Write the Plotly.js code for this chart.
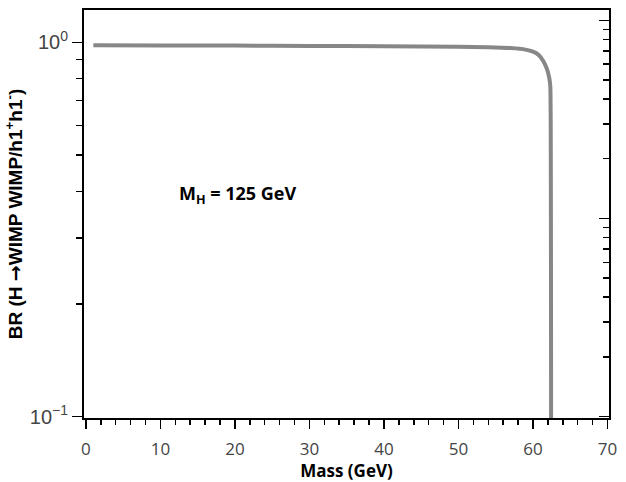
<!DOCTYPE html>
<html>
<head>
<meta charset="utf-8">
<script src="https://cdn.plot.ly/plotly-3.0.1.min.js"></script>
<style>html,body{margin:0;padding:0;background:#fff;}#chart{width:626px;height:482px;}</style>
</head>
<body>
<div id="chart"></div>
<script>
// Data
var massGeV = [1, 10, 20, 30, 40, 50, 54, 57, 59, 60, 60.8, 61.4, 61.9, 62.2, 62.33, 62.38, 62.4, 62.42, 62.43];
var branchingRatio = [0.982, 0.981, 0.980, 0.978, 0.976, 0.973, 0.970, 0.965, 0.956, 0.944, 0.924, 0.890, 0.845, 0.800, 0.760, 0.600, 0.400, 0.200, 0.090];
var xTickValues = [0, 10, 20, 30, 40, 50, 60, 70];
var yTickValues = [0.1, 1];
var yTickText = ['10<sup>\u22121</sup>', '10<sup>0</sup>'];
var annotationText = '<b>M<sub>H</sub> = 125 GeV</b>';
var yTitleText = '<b>BR (H <span style="font-family:DejaVu Sans">\u2192</span>WIMP WIMP/h1<sup>+</sup>h1<sup>-</sup>)</b>';

var trace = {
  x: massGeV,
  y: branchingRatio,
  type: 'scatter',
  mode: 'lines',
  line: {color: 'rgb(135,135,135)', width: 4, shape: 'spline', smoothing: 0.4},
  hoverinfo: 'skip',
  showlegend: false
};
// empty trace so that the right-hand log axis (ticks only) is drawn
var rightAxisHolder = {x: [], y: [], type: 'scatter', mode: 'lines', yaxis: 'y2', showlegend: false, hoverinfo: 'skip'};

var layout = {
  width: 626,
  height: 482,
  margin: {l: 84, r: 17, t: 10, b: 64},
  paper_bgcolor: '#fff',
  plot_bgcolor: '#fff',
  showlegend: false,
  font: {family: 'Open Sans', size: 17, color: '#444'},
  xaxis: {
    range: [-0.25, 70.2],
    tickvals: xTickValues,
    ticks: 'outside',
    ticklen: 9,
    tickwidth: 1.5,
    tickcolor: '#000',
    minor: {dtick: 2, ticks: 'outside', ticklen: 5, tickwidth: 1.5, tickcolor: '#000'},
    showline: true,
    linecolor: '#000',
    linewidth: 2,
    mirror: true,
    showgrid: false,
    zeroline: false,
    tickfont: {family: 'Open Sans', size: 17, color: '#444'},
    ticklabelstandoff: 6,
    title: {text: '<b>Mass (GeV)</b>', font: {family: 'Open Sans', size: 17, color: '#000'}, standoff: 5}
  },
  yaxis: {
    type: 'log',
    range: [-1.0035, 0.0863],
    tickvals: yTickValues,
    ticktext: yTickText,
    ticks: 'outside',
    ticklen: 10,
    tickwidth: 1.5,
    tickcolor: '#000',
    minor: {tickvals: [0.2, 0.3, 0.4, 0.5, 0.6, 0.7, 0.8, 0.9], ticks: 'outside', ticklen: 6, tickwidth: 1.5, tickcolor: '#000'},
    showline: true,
    linecolor: '#000',
    linewidth: 2,
    showgrid: false,
    zeroline: false,
    tickfont: {family: 'Liberation Sans, Arial', size: 20, color: '#444'},
    title: {text: yTitleText, font: {family: 'Liberation Sans, Arial', size: 19, color: '#000'}, standoff: 2}
  },
  yaxis2: {
    type: 'log',
    overlaying: 'y',
    side: 'right',
    anchor: 'x',
    range: [-0.008, 2.052],
    tickvals: [1, 10, 100],
    showticklabels: false,
    ticks: 'inside',
    ticklen: 10,
    tickwidth: 1.5,
    tickcolor: '#000',
    minor: {tickvals: [2,3,4,5,6,7,8,9,20,30,40,50,60,70,80,90], ticks: 'inside', ticklen: 6, tickwidth: 1.5, tickcolor: '#000'},
    showline: true,
    linecolor: '#000',
    linewidth: 2,
    showgrid: false,
    zeroline: false
  },
  annotations: [{
    x: 20.3, y: Math.log10(0.393), xref: 'x', yref: 'y',
    text: annotationText, showarrow: false,
    font: {family: 'Open Sans', size: 18, color: '#000'}
  }]
};

Plotly.newPlot('chart', [trace, rightAxisHolder], layout, {displayModeBar: false, staticPlot: true});
</script>
</body>
</html>
